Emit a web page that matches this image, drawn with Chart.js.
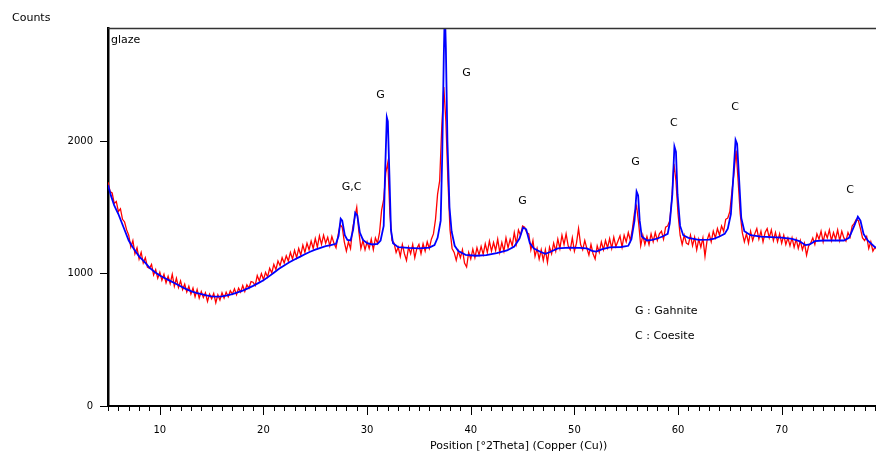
<!DOCTYPE html>
<html>
<head>
<meta charset="utf-8">
<script src="https://cdn.jsdelivr.net/npm/chart.js@4.4.1/dist/chart.umd.min.js"></script>
<style>
  html, body { margin: 0; padding: 0; background: #fff; }
  canvas { display: block; }
</style>
</head>
<body>
<canvas id="xrd" width="876" height="455"></canvas>
<script>
// Measured scan: start angle, step (deg 2Theta) and counts
const scanStart = 5;
const scanStep = 0.2;
const measuredCounts = [
  1690, 1620, 1610, 1530, 1545, 1470, 1490, 1410, 1390, 1330,
  1290, 1200, 1250, 1150, 1195, 1110, 1160, 1080, 1120, 1050,
  1040, 1070, 990, 1030, 965, 1010, 950, 995, 930, 980,
  925, 995, 905, 965, 895, 945, 880, 920, 860, 905,
  845, 890, 825, 880, 815, 865, 820, 855, 790, 845,
  810, 850, 780, 840, 800, 855, 815, 860, 825, 870,
  845, 885, 840, 890, 860, 910, 865, 915, 890, 940,
  935, 910, 985, 945, 1000, 955, 1010, 975, 1040, 1005,
  1070, 1030, 1095, 1060, 1120, 1080, 1135, 1095, 1160, 1110,
  1175, 1120, 1190, 1140, 1215, 1160, 1230, 1180, 1245, 1190,
  1265, 1200, 1285, 1220, 1290, 1230, 1275, 1210, 1280, 1230,
  1195, 1290, 1370, 1350, 1240, 1170, 1240, 1190, 1340, 1420,
  1500, 1320, 1190, 1250, 1180, 1240, 1190, 1260, 1180, 1270,
  1230, 1310, 1480, 1560, 1760, 1840, 1450, 1250, 1230, 1160,
  1200, 1130, 1220, 1150, 1100, 1200, 1150, 1220, 1120, 1190,
  1220, 1150, 1225, 1170, 1240, 1190, 1260, 1300, 1410, 1600,
  1700, 2100, 2410, 2150, 1700, 1330, 1190, 1160, 1100, 1170,
  1120, 1180, 1080, 1050, 1160, 1110, 1185, 1120, 1195, 1140,
  1205, 1145, 1225, 1160, 1245, 1170, 1235, 1175, 1260, 1160,
  1235, 1170, 1270, 1195, 1260, 1210, 1310, 1225, 1330, 1290,
  1360, 1350, 1310, 1300, 1180, 1250, 1130, 1190, 1110, 1180,
  1100, 1180, 1085, 1200, 1150, 1230, 1170, 1260, 1190, 1290,
  1220, 1300, 1210, 1180, 1270, 1170, 1230, 1340, 1220, 1180,
  1250, 1190, 1140, 1220, 1150, 1110, 1210, 1160, 1240, 1180,
  1250, 1195, 1265, 1190, 1275, 1205, 1245, 1285, 1200, 1290,
  1240, 1310, 1250, 1340, 1460, 1510, 1380, 1210, 1290, 1220,
  1280, 1220, 1300, 1240, 1310, 1250, 1300, 1320, 1260, 1350,
  1360, 1400, 1560, 1830, 1700, 1450, 1290, 1220, 1290, 1230,
  1220, 1290, 1210, 1275, 1180, 1260, 1200, 1270, 1130, 1250,
  1300, 1240, 1320, 1270, 1340, 1290, 1360, 1320, 1410, 1420,
  1470, 1620, 1760, 1930, 1700, 1450, 1310, 1240, 1300, 1230,
  1320, 1250, 1300, 1340, 1260, 1320, 1240, 1310, 1340, 1270,
  1330, 1250, 1310, 1240, 1300, 1230, 1290, 1220, 1270, 1210,
  1270, 1200, 1260, 1190, 1250, 1180, 1230, 1140, 1210, 1230,
  1270, 1220, 1300, 1260, 1320, 1240, 1310, 1270, 1330, 1250,
  1310, 1260, 1330, 1250, 1320, 1270, 1245, 1310, 1275, 1360,
  1380, 1410, 1400, 1340, 1270, 1250, 1280, 1190, 1240, 1170,
  1200, 1180
];

// Calculated (fitted) profile
const fitAngle = [
  5.0, 5.3, 5.6, 6.0, 6.5, 7.0, 7.5, 8.0, 8.5, 9.0, 9.5, 10.0, 10.5, 11.0, 11.5,
  12.0, 12.5, 13.0, 13.5, 14.0, 14.5, 15.0, 15.5, 16.0, 16.5, 17.0, 17.5, 18.0,
  18.5, 19.0, 19.5, 20.0, 20.5, 21.0, 21.5, 22.0, 22.5, 23.0, 23.5, 24.0, 24.5,
  25.0, 25.5, 26.0, 26.5, 27.0, 27.25, 27.45, 27.6, 27.85, 28.1, 28.4, 28.65,
  28.85, 29.05, 29.3, 29.6, 30.0, 30.5, 31.0, 31.3, 31.6, 31.75, 31.9, 32.0,
  32.15, 32.3, 32.5, 33.0, 34.0, 35.0, 36.0, 36.5, 36.8, 37.1, 37.25, 37.4,
  37.5, 37.6, 37.75, 37.95, 38.15, 38.45, 38.8, 39.5, 40.5, 41.5, 42.5, 43.5,
  44.2, 44.7, 45.05, 45.35, 45.7, 46.1, 46.7, 47.2, 47.7, 48.4, 49.5, 50.5,
  51.2, 51.7, 52.1, 52.7, 53.4, 54.5, 55.2, 55.5, 55.8, 56.0, 56.15, 56.3,
  56.5, 57.0, 57.5, 58.0, 58.5, 59.0, 59.2, 59.45, 59.65, 59.8, 59.95, 60.2,
  60.5, 61.0, 62.0, 63.0, 63.5, 64.0, 64.5, 64.8, 65.1, 65.35, 65.55, 65.7,
  65.9, 66.1, 66.4, 67.0, 68.0, 69.0, 70.0, 71.0, 71.7, 72.3, 72.7, 73.2,
  74.0, 75.0, 76.0, 76.5, 77.0, 77.35, 77.6, 77.9, 78.3, 79.0, 79.2
];
const fitCounts = [
  1670, 1585, 1515, 1450, 1350, 1250, 1185, 1130, 1090, 1045, 1012, 985, 965, 945, 925,
  905, 885, 868, 855, 845, 835, 828, 826, 828, 835, 845, 858, 872,
  888, 907, 928, 950, 977, 1007, 1036, 1062, 1086, 1106, 1126, 1146, 1165,
  1181, 1195, 1207, 1215, 1225, 1285, 1415, 1400, 1290, 1255, 1250, 1330,
  1460, 1440, 1310, 1255, 1230, 1220, 1225, 1250, 1360, 1800, 2180, 2150,
  1750, 1330, 1230, 1200, 1194, 1190, 1196, 1215, 1270, 1400, 1900, 2650,
  3000, 2700, 2000, 1500, 1320, 1210, 1170, 1142, 1135, 1140, 1155, 1175,
  1205, 1265, 1348, 1335, 1230, 1190, 1165, 1150, 1165, 1190, 1196, 1195,
  1190, 1172, 1166, 1185, 1198, 1201, 1210, 1260, 1400, 1620, 1590, 1400,
  1280, 1250, 1255, 1265, 1280, 1300, 1380, 1600, 1960, 1920, 1600, 1360,
  1290, 1270, 1255, 1256, 1265, 1280, 1300, 1340, 1450, 1750, 2010, 1980,
  1700, 1420, 1320, 1290, 1280, 1276, 1272, 1262, 1245, 1215, 1220, 1245,
  1250, 1250, 1250, 1270, 1360, 1430, 1400, 1300, 1250, 1200, 1195
];

// Axis ranges and ticks
const angleMin = 5;
const angleMax = 79.1;
const countMax = 2855;
const countTicks = [0, 1000, 2000];

// Phase labels above the peaks
const peakLabels = ['G,C', 'G', 'G', 'G', 'G', 'C', 'C', 'C'];
const peakLabelAngle = [28.5, 31.3, 39.6, 45.0, 55.9, 59.6, 65.5, 76.6];
const peakLabelCounts = [1655, 2350, 2515, 1550, 1845, 2135, 2255, 1630];

// Phase key
const keyLines = ['G : Gahnite', 'C : Coesite'];
const keyAngle = 55.85;
const keyCounts = [716, 527];

const measured = measuredCounts.map((c, i) => ({ x: scanStart + i * scanStep, y: c }));
const fitted = fitAngle.map((a, i) => ({ x: a, y: fitCounts[i] }));

const FONT = '"DejaVu Sans", sans-serif';

// Extra drawing: frame top, minor/major x ticks and text labels
const decorations = {
  id: 'decorations',
  afterDraw(chart) {
    const { ctx, chartArea, scales } = chart;
    const x = scales.x;
    const y = scales.y;
    ctx.save();

    // top frame line
    ctx.strokeStyle = '#333';
    ctx.lineWidth = 1.5;
    ctx.beginPath();
    ctx.moveTo(chartArea.left, chartArea.top + 0.5);
    ctx.lineTo(chartArea.right, chartArea.top + 0.5);
    ctx.stroke();

    // x ticks: every degree, longer every 10
    ctx.strokeStyle = '#000';
    ctx.lineWidth = 1;
    for (let v = Math.ceil(angleMin); v <= angleMax; v++) {
      const px = Math.round(x.getPixelForValue(v)) + 0.5;
      const len = v % 10 === 0 ? 9 : 5;
      ctx.beginPath();
      ctx.moveTo(px, chartArea.bottom);
      ctx.lineTo(px, chartArea.bottom + len);
      ctx.stroke();
    }

    ctx.fillStyle = '#000';
    ctx.font = '11px ' + FONT;
    ctx.textBaseline = 'middle';

    // peak labels
    ctx.textAlign = 'center';
    peakLabels.forEach((t, i) => {
      ctx.fillText(t, x.getPixelForValue(peakLabelAngle[i]), y.getPixelForValue(peakLabelCounts[i]));
    });

    // key
    ctx.textAlign = 'left';
    keyLines.forEach((t, i) => {
      ctx.fillText(t, x.getPixelForValue(keyAngle), y.getPixelForValue(keyCounts[i]));
    });

    // sample name, y title, x title
    ctx.fillText('glaze', chartArea.left + 3, chartArea.top + 12);
    ctx.fillText('Counts', 12, 18);
    ctx.fillText('Position [°2Theta] (Copper (Cu))', 430, 446);

    ctx.restore();
  }
};

const ctx = document.getElementById('xrd').getContext('2d');
new Chart(ctx, {
  type: 'line',
  data: {
    datasets: [
      {
        label: 'Calculated',
        data: fitted,
        borderColor: '#0000ff',
        borderWidth: 1.8,
        pointRadius: 0,
        tension: 0,
        order: 0,
      },
      {
        label: 'Measured',
        data: measured,
        borderColor: '#ff0000',
        borderWidth: 1.3,
        pointRadius: 0,
        tension: 0,
        order: 1,
      },
    ],
  },
  options: {
    responsive: false,
    animation: false,
    devicePixelRatio: 1,
    layout: { padding: { top: 28, right: 0, left: 0, bottom: 0 } },
    plugins: {
      legend: { display: false },
      tooltip: { enabled: false },
    },
    scales: {
      x: {
        type: 'linear',
        min: angleMin,
        max: angleMax,
        grid: { display: false, drawTicks: false },
        border: { display: true, color: '#000', width: 2 },
        ticks: {
          stepSize: 10,
          includeBounds: false,
          maxRotation: 0,
          padding: 18,
          color: '#000',
          font: { family: FONT, size: 10 },
          callback: (v) => String(v),
        },
        afterFit: (scale) => { scale.height = 49; },
      },
      y: {
        type: 'linear',
        min: 0,
        max: countMax,
        afterBuildTicks: (scale) => { scale.ticks = countTicks.map((v) => ({ value: v })); },
        grid: {
          display: true,
          drawOnChartArea: false,
          drawTicks: true,
          tickLength: 8,
          color: '#000',
          lineWidth: 1,
        },
        border: { display: true, color: '#000', width: 2.5 },
        ticks: {
          padding: 7,
          color: '#000',
          font: { family: FONT, size: 10 },
          callback: (v) => String(v),
        },
        afterFit: (scale) => { scale.width = 108; },
      },
    },
  },
  plugins: [decorations],
});
</script>
</body>
</html>
